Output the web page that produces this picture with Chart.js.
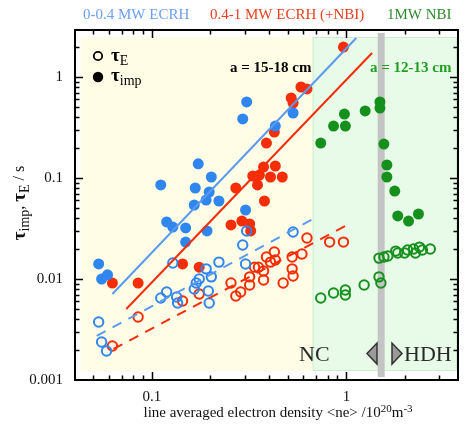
<!DOCTYPE html>
<html>
<head>
<meta charset="utf-8">
<script src="https://cdn.jsdelivr.net/npm/chart.js@4.4.1/dist/chart.umd.min.js"></script>
<style>
  html, body { margin: 0; padding: 0; background: #fff; }
  #wrap { width: 466px; height: 427px; position: relative; }
</style>
</head>
<body>
<div id="wrap"><canvas id="tauChart" width="466" height="427"></canvas></div>
<script>
// 0-0.4 MW ECRH, impurity confinement (filled)
const lowImpNe = [0.0532, 0.0551, 0.0591, 0.111, 0.119, 0.128, 0.149, 0.149, 0.167, 0.165, 0.173, 0.190, 0.197, 0.202, 0.221, 0.192, 0.303, 0.293, 0.307, 0.431, 0.532];
const lowImpTau = [0.0141, 0.0100, 0.0110, 0.0853, 0.0367, 0.0327, 0.0320, 0.0232, 0.0796, 0.0540, 0.138, 0.0605, 0.0727, 0.1023, 0.0592, 0.0299, 0.0482, 0.384, 0.566, 0.327, 0.440];
// 0-0.4 MW ECRH, energy confinement (open)
const lowENe = [0.0532, 0.0551, 0.0584, 0.111, 0.119, 0.128, 0.134, 0.1355, 0.165, 0.169, 0.175, 0.190, 0.202, 0.195, 0.197, 0.221, 0.293, 0.307, 0.303, 0.532];
const lowETau = [0.00375, 0.00238, 0.00194, 0.00648, 0.00743, 0.0144, 0.00663, 0.00578, 0.00796, 0.00912, 0.0100, 0.0126, 0.0105, 0.00761, 0.00578, 0.0147, 0.0217, 0.0299, 0.0141, 0.0292];

// 0.4-1 MW ECRH (+NBI)
const highImpNe = [0.0626, 0.0849, 0.1437, 0.175, 0.255, 0.290, 0.318, 0.322, 0.270, 0.379, 0.330, 0.357, 0.349, 0.375, 0.431, 0.407, 0.468, 0.388, 0.426, 0.520, 0.532, 0.584, 0.627, 0.966];
const highImpTau = [0.00912, 0.00912, 0.0141, 0.0131, 0.0343, 0.0375, 0.0351, 0.0299, 0.0796, 0.0592, 0.1047, 0.107, 0.0853, 0.1285, 0.1315, 0.1023, 0.1023, 0.222, 0.285, 0.620, 0.553, 0.796, 0.761, 1.98];
const highENe = [0.0626, 0.0849, 0.1437, 0.175, 0.255, 0.270, 0.286, 0.318, 0.318, 0.337, 0.353, 0.375, 0.375, 0.388, 0.407, 0.426, 0.431, 0.473, 0.526, 0.526, 0.532, 0.591, 0.627, 0.820, 0.966];
const highETau = [0.00217, 0.00420, 0.00605, 0.00710, 0.00912, 0.00679, 0.00743, 0.00872, 0.0105, 0.0131, 0.0131, 0.0120, 0.00977, 0.0165, 0.0147, 0.0185, 0.0154, 0.00912, 0.0165, 0.0126, 0.0107, 0.0177, 0.0255, 0.0232, 0.0232];

// 1 MW NBI
const nbiImpNe = [0.738, 0.859, 0.988, 0.977, 1.249, 1.488, 1.488, 1.559, 1.615, 1.615, 1.773, 1.837, 2.088, 2.348];
const nbiImpTau = [0.222, 0.327, 0.327, 0.430, 0.461, 0.566, 0.493, 0.217, 0.1345, 0.1023, 0.0743, 0.0421, 0.0375, 0.0440];
const nbiENe = [0.738, 0.859, 0.988, 0.988, 1.234, 1.471, 1.505, 1.471, 1.559, 1.634, 1.794, 1.837, 1.993, 2.064, 2.214, 2.266, 2.375, 2.460, 2.701];
const nbiETau = [0.00648, 0.00727, 0.00778, 0.00694, 0.00872, 0.0105, 0.00912, 0.0161, 0.0165, 0.0169, 0.0189, 0.0181, 0.0181, 0.0194, 0.0198, 0.0181, 0.0207, 0.0194, 0.0198];

// fit lines (end points)
const fitLowImpNe = [0.0626, 1.124], fitLowImpTau = [0.0071, 2.43];
const fitHighImpNe = [0.0738, 1.355], fitHighImpTau = [0.00505, 1.73];
const fitLowENe = [0.052, 0.704], fitLowETau = [0.00273, 0.0411];
const fitHighENe = [0.0634, 1.012], fitHighETau = [0.00203, 0.0343];

// regions / markers on the density axis
const ncRange = [0.043, 0.67];
const hdhRange = [0.67, 3.7];
const limitNe = 1.51;

const xTickLabels = { '0.1': '0.1', '1': '1' };
const yTickLabels = { '0.001': '0.001', '0.01': '0.01', '0.1': '0.1', '1': '1' };

const BLUE = '#2f86ee', BLUE_LINE = '#5a9bf0', RED = '#f52d08', GREEN = '#16901c';
const SERIF = '"Liberation Serif", "DejaVu Serif", serif';

function pts(xs, ys) {
    return xs.map((x, i) => ({ x: x, y: ys[i] }));
}

function filled(data, color) {
    return { type: 'scatter', data: data, pointRadius: 5.5, pointHoverRadius: 5.5,
        backgroundColor: color, borderWidth: 0, order: 5 };
}
function open(data, color) {
    return { type: 'scatter', data: data, pointRadius: 4.7, pointHoverRadius: 4.7,
        backgroundColor: 'rgba(0,0,0,0)', borderColor: color, borderWidth: 2, order: 5 };
}
function fit(data, color, dash) {
    return { type: 'line', data: data, showLine: true, pointRadius: 0, borderColor: color,
        borderWidth: 2, borderDash: dash || [], fill: false, order: 1 };
}

// draw a string made of several font parts (sub/superscripts)
function rich(ctx, parts, x, y, align) {
    let w = 0;
    parts.forEach(p => { ctx.font = p.f; w += ctx.measureText(p.t).width; });
    let cx = align === 'center' ? x - w / 2 : x;
    parts.forEach(p => {
        ctx.font = p.f;
        ctx.fillText(p.t, cx, y + (p.dy || 0));
        cx += ctx.measureText(p.t).width;
    });
}

const decor = {
    id: 'decor',
    beforeDatasetsDraw(chart) {
        const { ctx, chartArea: a, scales: { x, y } } = chart;
        const top = y.getPixelForValue(2.49), bot = y.getPixelForValue(0.00123);
        ctx.save();
        // NC region
        ctx.fillStyle = '#fffde6';
        ctx.fillRect(x.getPixelForValue(ncRange[0]), top, x.getPixelForValue(ncRange[1]) - x.getPixelForValue(ncRange[0]), bot - top);
        // HDH region
        const gx0 = x.getPixelForValue(hdhRange[0]), gx1 = x.getPixelForValue(hdhRange[1]);
        ctx.fillStyle = '#e8fbe8';
        ctx.fillRect(gx0, top, gx1 - gx0, bot - top);
        ctx.strokeStyle = '#cdeecd';
        ctx.lineWidth = 1;
        ctx.strokeRect(gx0 + 0.5, top + 0.5, gx1 - gx0 - 1, bot - top - 1);
        // density limit band
        const lx = x.getPixelForValue(limitNe);
        ctx.fillStyle = '#c4c4c4';
        ctx.fillRect(lx - 3.5, a.top + 3, 7, a.bottom - a.top - 6);
        ctx.restore();
    },
    afterDraw(chart) {
        const { ctx, chartArea: a, scales: { x, y } } = chart;
        ctx.save();
        // inward ticks on all four sides
        ctx.strokeStyle = '#000';
        ctx.lineWidth = 1.5;
        for (let d = -3; d <= 1; d++) {
            for (let m = 1; m <= 9; m++) {
                const v = m * Math.pow(10, d);
                const len = m === 1 ? 8 : 4.5;
                if (v > x.min && v < x.max) {
                    const px = Math.round(x.getPixelForValue(v)) + 0.5;
                    ctx.beginPath();
                    ctx.moveTo(px, a.bottom); ctx.lineTo(px, a.bottom - len);
                    ctx.moveTo(px, a.top); ctx.lineTo(px, a.top + len);
                    ctx.stroke();
                }
                if (v > y.min && v < y.max) {
                    const py = Math.round(y.getPixelForValue(v)) + 0.5;
                    ctx.beginPath();
                    ctx.moveTo(a.left, py); ctx.lineTo(a.left + len, py);
                    ctx.moveTo(a.right, py); ctx.lineTo(a.right - len, py);
                    ctx.stroke();
                }
            }
        }
        // frame
        ctx.lineWidth = 2;
        ctx.strokeRect(a.left, a.top, a.right - a.left, a.bottom - a.top);

        ctx.textBaseline = 'middle';
        // header
        ctx.textAlign = 'left';
        ctx.font = '15px ' + SERIF;
        ctx.fillStyle = '#6a9ef4';
        ctx.fillText('0-0.4 MW ECRH', 83, 15);
        ctx.fillStyle = '#e8401e';
        ctx.fillText('0.4-1 MW ECRH (+NBI)', 210, 15);
        ctx.fillStyle = '#2e8b2e';
        ctx.fillText('1MW NBI', 387, 15);

        // legend
        ctx.lineWidth = 1.8;
        ctx.strokeStyle = '#000';
        ctx.beginPath(); ctx.arc(98, 56, 4.2, 0, Math.PI * 2); ctx.stroke();
        ctx.fillStyle = '#000';
        ctx.beginPath(); ctx.arc(98, 77, 5.2, 0, Math.PI * 2); ctx.fill();
        rich(ctx, [{ t: 'τ', f: 'bold 19px ' + SERIF }, { t: 'E', f: '14px ' + SERIF, dy: 5 }], 111, 56, 'left');
        rich(ctx, [{ t: 'τ', f: 'bold 19px ' + SERIF }, { t: 'imp', f: '14px ' + SERIF, dy: 5 }], 111, 76, 'left');

        // radius notes
        ctx.font = 'bold 15px ' + SERIF;
        ctx.fillStyle = '#000';
        ctx.fillText('a = 15-18 cm', 230, 68);
        ctx.fillStyle = '#22a022';
        ctx.fillText('a = 12-13 cm', 370, 68);

        // regime labels
        ctx.fillStyle = '#2a2a2a';
        ctx.font = '22px ' + SERIF;
        ctx.fillText('NC', 299, 355);
        ctx.fillText('HDH', 404, 355);
        ctx.fillStyle = '#9a9a9a';
        ctx.strokeStyle = '#333';
        ctx.lineWidth = 1.5;
        ctx.beginPath(); ctx.moveTo(377, 343); ctx.lineTo(377, 364); ctx.lineTo(367, 353.5); ctx.closePath(); ctx.fill(); ctx.stroke();
        ctx.beginPath(); ctx.moveTo(392, 343); ctx.lineTo(392, 364); ctx.lineTo(402, 353.5); ctx.closePath(); ctx.fill(); ctx.stroke();

        // axis titles
        ctx.fillStyle = '#111';
        rich(ctx, [
            { t: 'line averaged electron density <ne> /10', f: '15px ' + SERIF },
            { t: '20', f: '11px ' + SERIF, dy: -4 },
            { t: 'm', f: '15px ' + SERIF },
            { t: '-3', f: '11px ' + SERIF, dy: -4 }
        ], 278, 413, 'center');

        ctx.translate(20, 203);
        ctx.rotate(-Math.PI / 2);
        rich(ctx, [
            { t: 'τ', f: 'bold 19px ' + SERIF },
            { t: 'imp', f: '14px ' + SERIF, dy: 5 },
            { t: ', ', f: '16px ' + SERIF },
            { t: 'τ', f: 'bold 19px ' + SERIF },
            { t: 'E', f: '14px ' + SERIF, dy: 5 },
            { t: ' / s', f: '16px ' + SERIF }
        ], 0, 0, 'center');
        ctx.restore();
    }
};

new Chart(document.getElementById('tauChart'), {
    type: 'scatter',
    data: {
        datasets: [
            fit(pts(fitLowImpNe, fitLowImpTau), BLUE_LINE),
            fit(pts(fitHighImpNe, fitHighImpTau), RED),
            fit(pts(fitLowENe, fitLowETau), BLUE_LINE, [10, 8]),
            fit(pts(fitHighENe, fitHighETau), RED, [10, 8]),
            open(pts(lowENe, lowETau), BLUE),
            open(pts(highENe, highETau), RED),
            open(pts(nbiENe, nbiETau), GREEN),
            filled(pts(lowImpNe, lowImpTau), BLUE),
            filled(pts(highImpNe, highImpTau), RED),
            filled(pts(nbiImpNe, nbiImpTau), GREEN)
        ]
    },
    options: {
        responsive: false,
        animation: false,
        layout: { padding: { top: 30, right: 3, left: 0, bottom: 0 } },
        plugins: { legend: { display: false }, tooltip: { enabled: false } },
        scales: {
            x: {
                type: 'logarithmic',
                min: 0.0402, max: 3.75,
                grid: { display: false, drawTicks: false },
                border: { display: false },
                afterFit: s => { s.height = 47; },
                ticks: {
                    autoSkip: false, maxRotation: 0, padding: 8, color: '#111',
                    font: { family: SERIF, size: 15 },
                    callback: v => xTickLabels[String(v)] || ''
                }
            },
            y: {
                type: 'logarithmic',
                min: 0.001, max: 2.92,
                grid: { display: false, drawTicks: false },
                border: { display: false },
                afterFit: s => { s.width = 75; },
                ticks: {
                    autoSkip: false, padding: 12, color: '#111',
                    font: { family: SERIF, size: 15 },
                    callback: v => yTickLabels[String(v)] || ''
                }
            }
        }
    },
    plugins: [decor]
});
</script>
</body>
</html>
